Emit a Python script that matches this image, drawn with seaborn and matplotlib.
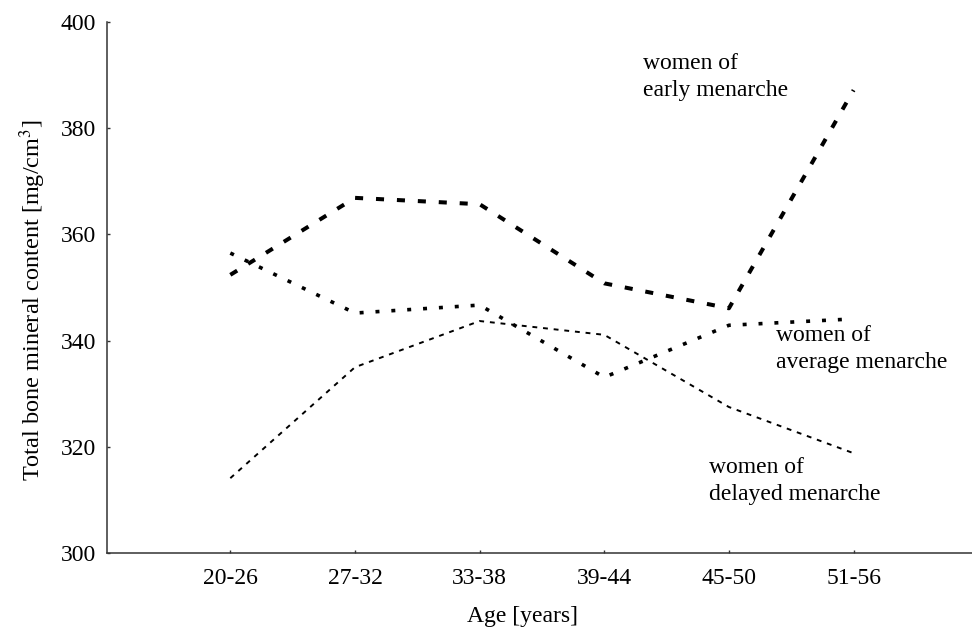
import pandas as pd
import seaborn as sns
import matplotlib.pyplot as plt

# data
ages = ["20-26", "27-32", "33-38", "39-44", "45-50", "51-56"]
early = [352.4, 366.9, 365.7, 350.8, 346.1, 387.2]
average = [356.5, 345.2, 346.7, 333.1, 342.9, 344.1]
delayed = [314.1, 335.0, 343.7, 341.1, 327.5, 318.8]


def set_config():
    sns.set_style("ticks")
    plt.rcParams["font.family"] = ["Liberation Serif", "DejaVu Serif"]
    plt.rcParams["mathtext.fontset"] = "stix"
    plt.rcParams["font.size"] = 17
    # plain black text like the original
    for key in ["text.color", "axes.labelcolor", "xtick.labelcolor", "ytick.labelcolor"]:
        plt.rcParams[key] = "black"


def build_frame():
    rows = []
    for group, values in [("early", early), ("average", average), ("delayed", delayed)]:
        for age, v in zip(ages, values):
            rows.append({"age": age, "bmc": v, "group": group})
    return pd.DataFrame(rows)


def main():
    set_config()
    df = build_frame()

    fig = plt.figure(figsize=(9.72, 6.29), dpi=100)
    ax = fig.add_axes([0.110, 0.1208, 0.890, 0.844])

    sns.lineplot(
        data=df, x="age", y="bmc", hue="group", style="group", size="group",
        palette={"early": "black", "average": "black", "delayed": "black"},
        dashes={"early": (2.0, 3.2), "average": (1.1, 3.3), "delayed": (2.5, 3.0)},
        sizes={"early": 2.9, "average": 2.6, "delayed": 1.4},
        legend=False, sort=False, ax=ax,
    )

    ax.set_xlim(-0.99, 5.95)
    ax.set_ylim(300, 400)
    ax.set_yticks([300, 320, 340, 360, 380, 400])
    sns.despine(ax=ax)
    for side in ["left", "bottom"]:
        ax.spines[side].set_color("#333333")
        ax.spines[side].set_linewidth(1.1)
    ax.tick_params(direction="in", length=2.5, width=1, color="#333333",
                   labelcolor="black", labelsize=17)
    ax.tick_params(axis="x", pad=11)
    ax.tick_params(axis="y", pad=8)

    ax.set_xlabel("Age [years]", fontsize=17, color="black")
    ax.set_ylabel(r"Total bone mineral content [mg/cm$^{3}$]", fontsize=17.5, color="black")
    ax.xaxis.set_label_coords(0.48, -0.1)
    ax.yaxis.set_label_coords(-0.068, 0.476)

    ax.text(3.31, 389.6, "women of\nearly menarche", va="center", ha="left",
            fontsize=17, linespacing=1.38, color="black")
    ax.text(4.38, 338.4, "women of\naverage menarche", va="center", ha="left",
            fontsize=17, linespacing=1.38, color="black")
    ax.text(3.84, 313.6, "women of\ndelayed menarche", va="center", ha="left",
            fontsize=17, linespacing=1.38, color="black")

    fig.savefig("out.png", dpi=100, facecolor="white")


if __name__ == "__main__":
    main()
